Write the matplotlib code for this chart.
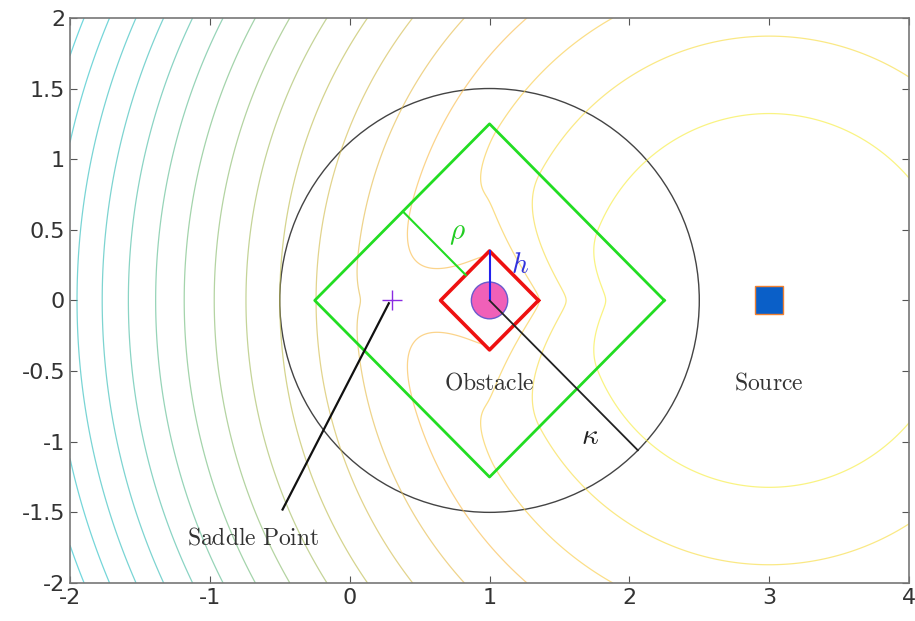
import numpy as np
import matplotlib
matplotlib.use("Agg")
import matplotlib.pyplot as plt
from matplotlib.colors import LinearSegmentedColormap
from matplotlib.patches import Circle

plt.rcParams['mathtext.fontset'] = 'cm'

# scene geometry
source = (3.0, 0.0)
obstacle = (1.0, 0.0)
saddle = (0.3, 0.0)
h_radius = 0.35        # red diamond (L1 radius)
rho_radius = 1.25      # green diamond (L1 radius)
kappa_radius = 1.5     # black circle
core_radius = 0.13     # pink disc
bump_height = 2.6
bump_power = 2.5
corner_smooth = 0.04
level_step = 1.75
n_levels = 16

rho_line_x = [0.38, 0.83]
rho_line_y = [0.63, 0.18]
saddle_line_x = [0.28, -0.48]
saddle_line_y = [-0.02, -1.48]

xticks = [-2, -1, 0, 1, 2, 3, 4]
yticks = [-2, -1.5, -1, -0.5, 0, 0.5, 1, 1.5, 2]

# field: squared distance to the source, raised by a diamond-shaped bump at the obstacle
xs = np.linspace(-2, 4, 901)
ys = np.linspace(-2, 2, 601)
X, Y = np.meshgrid(xs, ys)
d1 = np.abs(X - obstacle[0]) + np.abs(Y - obstacle[1])
e = corner_smooth
d_soft = np.sqrt((X - obstacle[0]) ** 2 + e ** 2) + np.sqrt((Y - obstacle[1]) ** 2 + e ** 2) - e
bump = bump_height * np.clip((rho_radius - d_soft) / (rho_radius - h_radius), 0, None) ** bump_power
F = (X - source[0]) ** 2 + (Y - source[1]) ** 2 + bump
F = np.ma.masked_where(d1 < h_radius, F)

levels = level_step * np.arange(1, n_levels + 1)
cmap = LinearSegmentedColormap.from_list(
    'parula_part',
    [(0.97, 0.93, 0.25), (0.98, 0.74, 0.30), (0.75, 0.74, 0.32),
     (0.45, 0.74, 0.50), (0.22, 0.74, 0.72), (0.15, 0.76, 0.80)])

fig = plt.figure(figsize=(9.15, 6.21), dpi=100)
ax = fig.add_axes([0.0765, 0.0612, 0.917, 0.910])

ax.contour(X, Y, F, levels=levels, cmap=cmap, linewidths=0.9, alpha=0.65)

# circle of radius kappa
ax.add_patch(Circle(obstacle, kappa_radius, fill=False, edgecolor='#444444', linewidth=1.0))

# diamonds
dx = np.array([1, 0, -1, 0, 1])
dy = np.array([0, 1, 0, -1, 0])
ax.plot(obstacle[0] + rho_radius * dx, obstacle[1] + rho_radius * dy, color='#22dd22', linewidth=2.0)
ax.plot(obstacle[0] + h_radius * dx, obstacle[1] + h_radius * dy, color='#ee1111', linewidth=2.6)

# obstacle core
ax.add_patch(Circle(obstacle, core_radius, facecolor='#f060b8', edgecolor='#6a5acd', linewidth=1.0, zorder=4))

# h, rho, kappa annotations
ax.plot([obstacle[0], obstacle[0]], [obstacle[1], obstacle[1] + h_radius], color='#2222ee', linewidth=1.5, zorder=5)
ax.text(1.22, 0.25, r'$h$', color='#3333dd', fontsize=21, ha='center', va='center')
ax.plot(rho_line_x, rho_line_y, color='#22dd22', linewidth=1.5)
ax.text(0.77, 0.48, r'$\rho$', color='#22cc22', fontsize=21, ha='center', va='center')
k_end = (obstacle[0] + kappa_radius * np.cos(-np.pi / 4), obstacle[1] + kappa_radius * np.sin(-np.pi / 4))
ax.plot([obstacle[0], k_end[0]], [obstacle[1], k_end[1]], color='#222222', linewidth=1.3, zorder=5)
ax.text(1.72, -0.96, r'$\kappa$', color='#222222', fontsize=21, ha='center', va='center')

# saddle point
ax.plot(saddle_line_x, saddle_line_y, color='#111111', linewidth=1.6)
ax.plot(*saddle, marker='+', color='#8a2be2', markersize=14, markeredgewidth=1.0)
ax.text(-0.69, -1.68, r'$\mathrm{Saddle\ Point}$', color='#333333', fontsize=17, ha='center', va='center')

# labels
ax.text(1.0, -0.58, r'$\mathrm{Obstacle}$', color='#333333', fontsize=17, ha='center', va='center')
ax.text(3.0, -0.58, r'$\mathrm{Source}$', color='#333333', fontsize=17, ha='center', va='center')
ax.plot(*source, marker='s', markersize=20, markerfacecolor='#0a5fc8', markeredgecolor='#f08030',
        markeredgewidth=1.0, linestyle='none')

ax.set_xlim(-2, 4)
ax.set_ylim(-2, 2)
ax.set_xticks(xticks)
ax.set_xticklabels([f'{v:g}' for v in xticks])
ax.set_yticks(yticks)
ax.set_yticklabels([f'{v:g}' for v in yticks])
ax.tick_params(direction='in', top=True, right=True, length=5, labelsize=16,
               colors='#555555', labelcolor='#333333')
for s in ax.spines.values():
    s.set_color('#777777')
    s.set_linewidth(1.2)

fig.savefig('out.png', dpi=100)
